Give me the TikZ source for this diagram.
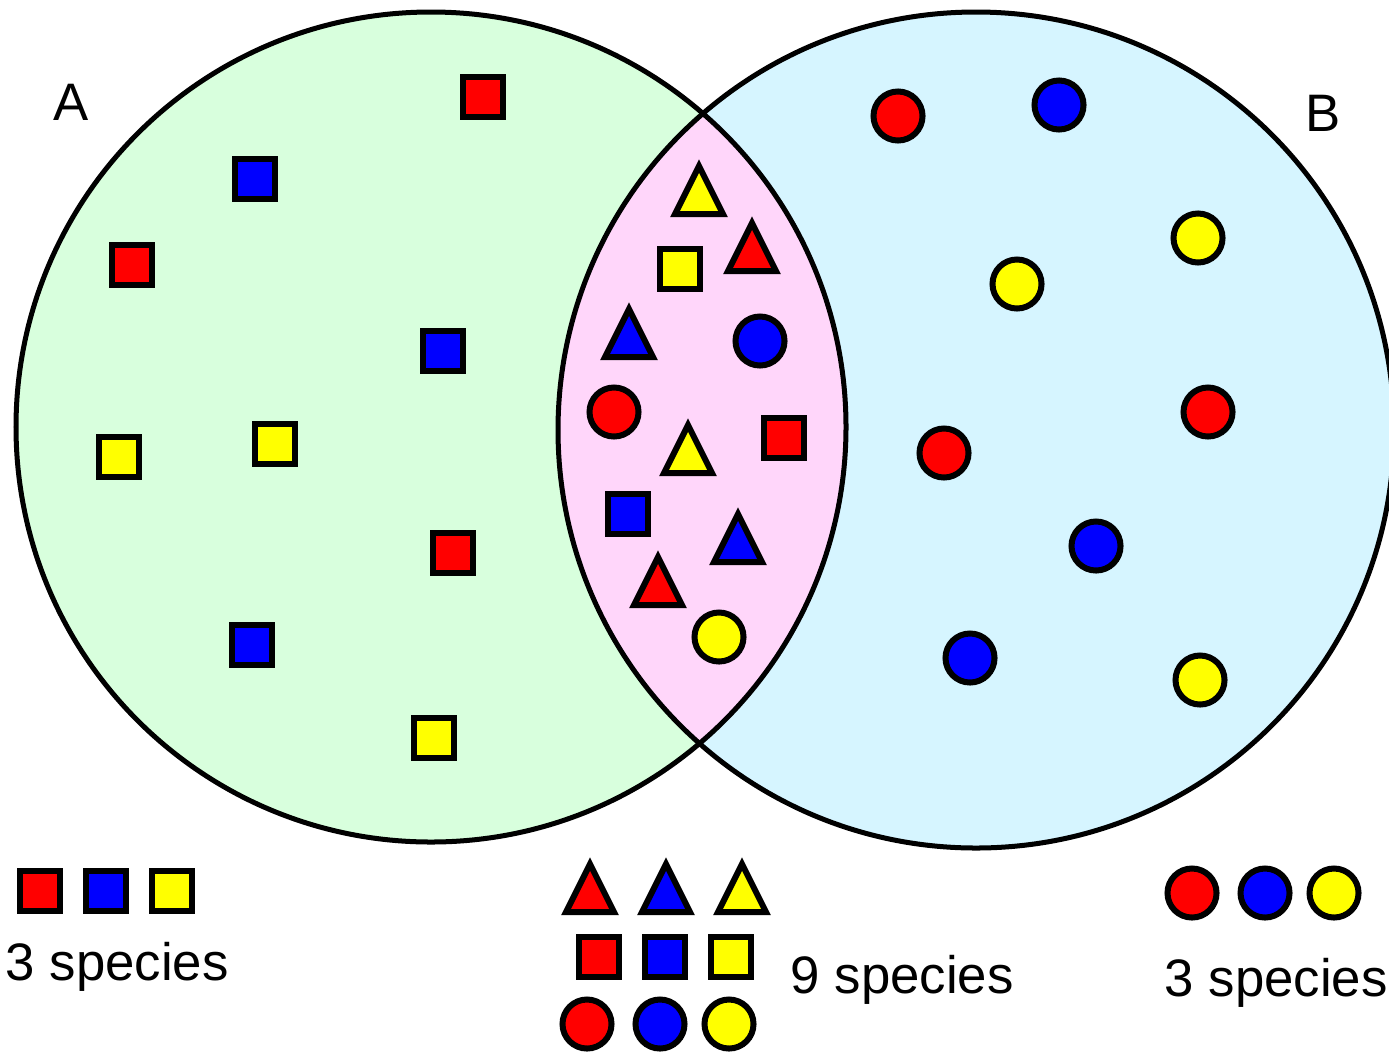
\documentclass[tikz,border=0pt]{standalone}
\usepackage{fontspec}
\setmainfont{Liberation Sans}
\definecolor{setA}{RGB}{216,255,221}
\definecolor{setB}{RGB}{214,245,255}
\definecolor{setAB}{RGB}{255,214,250}
\definecolor{cred}{RGB}{255,0,0}
\definecolor{cblue}{RGB}{0,0,255}
\definecolor{cyellow}{RGB}{255,255,0}
\tikzset{
  shapeline/.style={draw=black,line width=0.06cm},
  sq/.style={shapeline,fill=#1,rectangle,minimum size=0.4cm,inner sep=0pt},
  dot/.style={shapeline,fill=#1,circle,minimum size=0.49cm,inner sep=0pt},
  pics/tri/.style={code={%
    \path[shapeline,line join=miter,fill=#1] (0,-24) -- (24,24) -- (-24,24) -- cycle;}},
  ring/.style={draw=black,line width=0.05cm},
  lbl/.style={inner sep=0pt,font=\fontsize{15pt}{18pt}\selectfont}
}
\begin{document}
\begin{tikzpicture}[x=0.01cm,y=-0.01cm]
  \path[use as bounding box,clip] (0,0) rectangle (1389,1054);
  \coordinate (cA) at (431,427);
  \coordinate (cB) at (976,430);
  % set regions
  \fill[setA] (cA) circle[radius=415];
  \fill[setB] (cB) circle[radius=418];
  \begin{scope}
    \clip (cA) circle[radius=415];
    \fill[setAB] (cB) circle[radius=418];
  \end{scope}
  \draw[ring] (cA) circle[radius=415];
  \draw[ring] (cB) circle[radius=418];
  % set labels
  \node[lbl,anchor=base] (labA) at (71,120) {A};
  \node[lbl,anchor=base] (labB) at (1323,131) {B};
  % squares only in A
  \node[sq=cred]    (a1) at (483,97) {};
  \node[sq=cblue]   (a2) at (255,179) {};
  \node[sq=cred]    (a3) at (132,265) {};
  \node[sq=cblue]   (a4) at (443,351) {};
  \node[sq=cyellow] (a5) at (119,457) {};
  \node[sq=cyellow] (a6) at (275,444) {};
  \node[sq=cred]    (a7) at (453,553) {};
  \node[sq=cblue]   (a8) at (252,645) {};
  \node[sq=cyellow] (a9) at (434,738) {};
  % shared species
  \pic (m1) at (699,190) {tri=cyellow};
  \pic (m2) at (752,247) {tri=cred};
  \node[sq=cyellow] (m3) at (680,269) {};
  \pic (m4) at (629,333) {tri=cblue};
  \node[dot=cblue]  (m5) at (760,341) {};
  \node[dot=cred]   (m6) at (614,412) {};
  \pic (m7) at (688,449) {tri=cyellow};
  \node[sq=cred]    (m8) at (784,438) {};
  \node[sq=cblue]   (m9) at (628,514) {};
  \pic (m10) at (738,538) {tri=cblue};
  \pic (m11) at (658,581) {tri=cred};
  \node[dot=cyellow] (m12) at (719,637) {};
  % circles only in B
  \node[dot=cred]    (b1) at (898,116) {};
  \node[dot=cblue]   (b2) at (1059,105) {};
  \node[dot=cyellow] (b3) at (1198,238) {};
  \node[dot=cyellow] (b4) at (1017,284) {};
  \node[dot=cred]    (b5) at (1208,412) {};
  \node[dot=cred]    (b6) at (944,453) {};
  \node[dot=cblue]   (b7) at (1096,546) {};
  \node[dot=cblue]   (b8) at (970,658) {};
  \node[dot=cyellow] (b9) at (1200,680) {};
  % legend for A
  \node[sq=cred]    (la1) at (40,891) {};
  \node[sq=cblue]   (la2) at (106,891) {};
  \node[sq=cyellow] (la3) at (172,891) {};
  \node[lbl,anchor=base west] (ta) at (5,980) {3 species};
  % legend for the intersection
  \pic (lm1) at (590,888) {tri=cred};
  \pic (lm2) at (666,888) {tri=cblue};
  \pic (lm3) at (742,888) {tri=cyellow};
  \node[sq=cred]    (lm4) at (599,957) {};
  \node[sq=cblue]   (lm5) at (665,957) {};
  \node[sq=cyellow] (lm6) at (731,957) {};
  \node[dot=cred]    (lm7) at (587,1024) {};
  \node[dot=cblue]   (lm8) at (660,1024) {};
  \node[dot=cyellow] (lm9) at (729,1024) {};
  \node[lbl,anchor=base west] (tm) at (790,993) {9 species};
  % legend for B
  \node[dot=cred]    (lb1) at (1192,893) {};
  \node[dot=cblue]   (lb2) at (1265,893) {};
  \node[dot=cyellow] (lb3) at (1334,893) {};
  \node[lbl,anchor=base west] (tb) at (1164,996) {3 species};
\end{tikzpicture}
\end{document}
